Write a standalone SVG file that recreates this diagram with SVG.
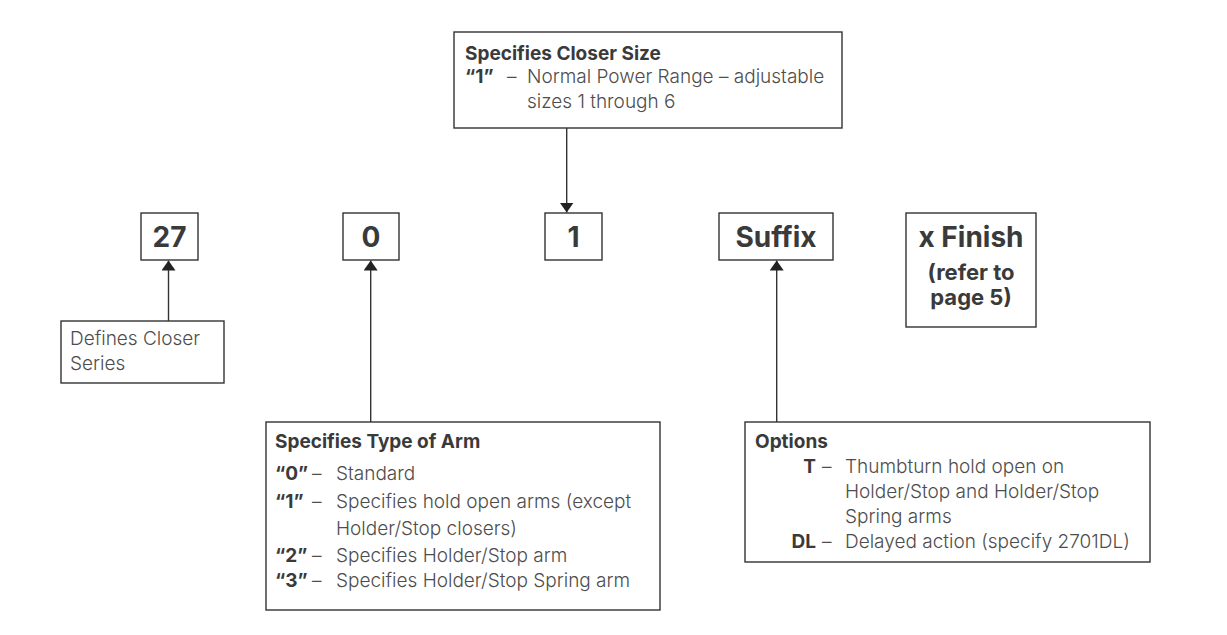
<svg xmlns="http://www.w3.org/2000/svg" width="1227" height="635" viewBox="0 0 1227 635">
<defs>
<marker id="ah" viewBox="0 0 10 14" refX="10" refY="7" markerWidth="10" markerHeight="14" markerUnits="userSpaceOnUse" orient="auto">
<path d="M0,0 L10,7 L0,14 z" fill="#222"/>
</marker>
<style>
.box{fill:#fff;stroke:#333;stroke-width:1.4}
.t{font-family:Inter,"Liberation Sans",sans-serif;font-size:19px;font-weight:300;fill:#4d4d4d}
.b{font-family:Inter,"Liberation Sans",sans-serif;font-size:19px;font-weight:700;fill:#3a3a3a}
.big{font-family:Inter,"Liberation Sans",sans-serif;font-size:28px;font-weight:700;fill:#3a3a3a;text-anchor:middle}
.mid{font-family:Inter,"Liberation Sans",sans-serif;font-size:22px;font-weight:700;fill:#3a3a3a;text-anchor:middle}
.conn{stroke:#333;stroke-width:1.4;fill:none;marker-end:url(#ah)}
</style>
</defs>
<rect width="1227" height="635" fill="#fff"/>
<g id="size">
<rect class="box" x="454" y="32" width="388" height="96"/>
<text class="b" x="465" y="60">Specifies Closer Size</text>
<text class="b" x="465" y="83">“1”</text><text class="t" x="507" y="83">–</text>
<text class="t" x="527" y="83">Normal Power Range – adjustable</text>
<text class="t" x="527" y="108">sizes 1 through 6</text>
</g>
<g id="n27"><rect class="box" x="141" y="213" width="57" height="47"/><text class="big" x="169.5" y="247">27</text></g>
<g id="n0"><rect class="box" x="343" y="213" width="56" height="47"/><text class="big" x="371" y="247">0</text></g>
<g id="n1"><rect class="box" x="545" y="213" width="57" height="47"/><text class="big" x="573.5" y="247">1</text></g>
<g id="suffix"><rect class="box" x="719" y="213" width="114" height="47"/><text class="big" x="776" y="247">Suffix</text></g>
<g id="finish"><rect class="box" x="906" y="213" width="130" height="114"/>
<text class="big" x="971" y="247">x Finish</text>
<text class="mid" x="971" y="280">(refer to</text>
<text class="mid" x="971" y="305">page 5)</text></g>
<g id="series"><rect class="box" x="61" y="321" width="163" height="62"/>
<text class="t" x="70" y="345">Defines Closer</text>
<text class="t" x="70" y="370">Series</text></g>
<g id="arm"><rect class="box" x="266" y="422" width="394" height="188"/>
<text class="b" x="275" y="448">Specifies Type of Arm</text>
<text class="b" x="275" y="480">“0”</text><text class="t" x="312" y="480">–</text><text class="t" x="336" y="480">Standard</text>
<text class="b" x="275" y="508">“1”</text><text class="t" x="312" y="508">–</text><text class="t" x="336" y="508">Specifies hold open arms (except</text>
<text class="t" x="336" y="535">Holder/Stop closers)</text>
<text class="b" x="275" y="562">“2”</text><text class="t" x="312" y="562">–</text><text class="t" x="336" y="562">Specifies Holder/Stop arm</text>
<text class="b" x="275" y="587">“3”</text><text class="t" x="312" y="587">–</text><text class="t" x="336" y="587">Specifies Holder/Stop Spring arm</text>
</g>
<g id="options"><rect class="box" x="745" y="422" width="405" height="140"/>
<text class="b" x="755" y="448">Options</text>
<text class="b" x="816" y="473" text-anchor="end">T</text><text class="t" x="822" y="473">–</text><text class="t" x="845" y="473">Thumbturn hold open on</text>
<text class="t" x="845" y="498">Holder/Stop and Holder/Stop</text>
<text class="t" x="845" y="523">Spring arms</text>
<text class="b" x="816" y="548" text-anchor="end">DL</text><text class="t" x="822" y="548">–</text><text class="t" x="845" y="548">Delayed action (specify 2701DL)</text>
</g>
<g id="connectors">
<line class="conn" x1="168.5" y1="321" x2="168.5" y2="260.5"/>
<line class="conn" x1="370.7" y1="422" x2="370.7" y2="260.5"/>
<line class="conn" x1="566.7" y1="128" x2="566.7" y2="212.5"/>
<line class="conn" x1="776.7" y1="422" x2="776.7" y2="260.5"/>
</g>
</svg>
